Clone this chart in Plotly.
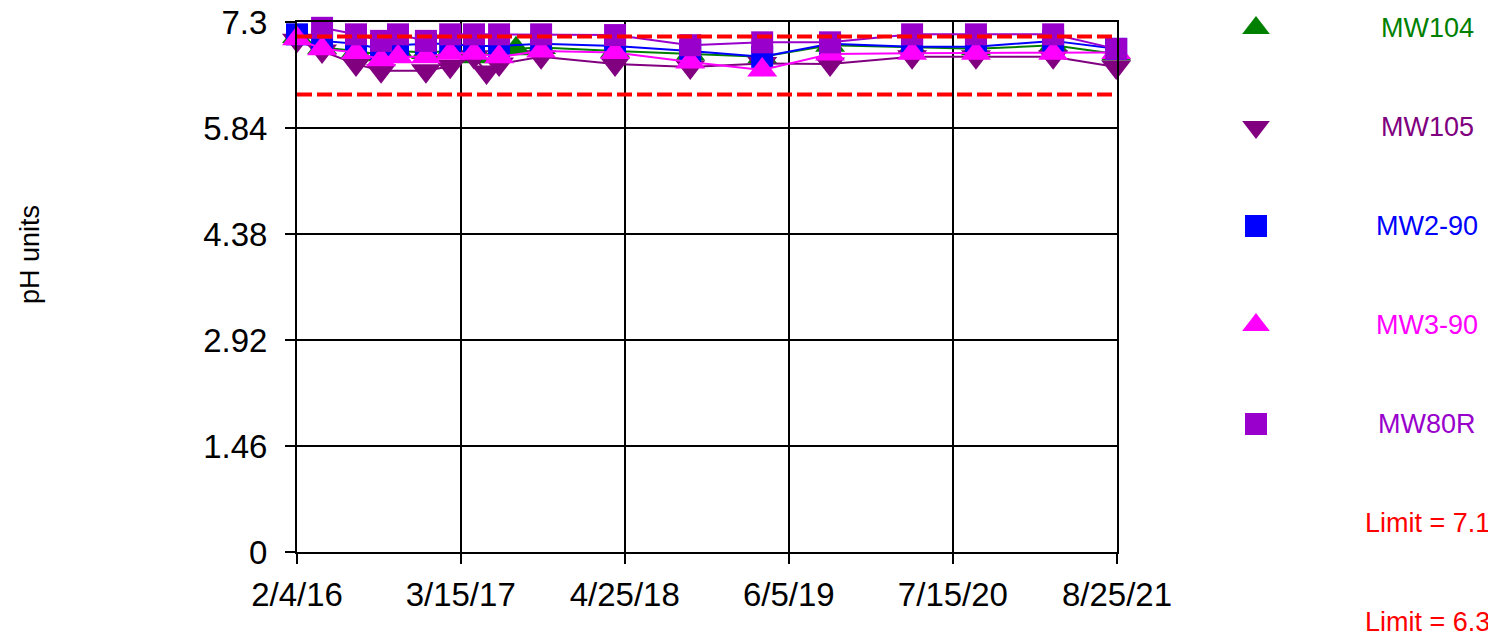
import plotly.graph_objects as go

# ---------------- data ----------------
mw104_dates = ["2016-02-04", "2016-04-06", "2016-06-29", "2016-08-30", "2016-10-11", "2016-12-19",
               "2017-02-17", "2017-04-17", "2017-07-30", "2017-09-30", "2018-04-01", "2018-10-04",
               "2019-03-31", "2019-09-15", "2020-04-05", "2020-09-10", "2021-03-20", "2021-08-23"]
mw104_vals = [7.10, 6.95, 6.90, 6.85, 6.90, 6.88, 6.90, 6.82, 6.93, 6.95, 6.90, 6.86,
              6.82, 6.98, 6.95, 6.93, 6.98, 6.86]

mw105_dates = ["2016-02-04", "2016-04-06", "2016-06-29", "2016-08-30", "2016-12-19", "2017-02-17",
               "2017-04-17", "2017-05-18", "2017-06-18", "2017-09-30", "2018-04-01", "2018-10-04",
               "2019-03-31", "2019-09-15", "2020-04-05", "2020-09-10", "2021-03-20", "2021-08-23"]
mw105_vals = [7.05, 6.90, 6.72, 6.63, 6.63, 6.69, 6.82, 6.61, 6.72, 6.82, 6.72, 6.68,
              6.73, 6.72, 6.82, 6.82, 6.82, 6.68]

common_dates = ["2016-02-04", "2016-04-06", "2016-06-29", "2016-08-30", "2016-10-11", "2016-12-19",
                "2017-02-17", "2017-04-17", "2017-06-18", "2017-09-30", "2018-04-01", "2018-10-04",
                "2019-03-31", "2019-09-15", "2020-04-05", "2020-09-10", "2021-03-20", "2021-08-23"]
mw2_90_vals = [7.13, 7.04, 7.00, 6.93, 6.98, 7.00, 7.00, 6.97, 6.97, 7.00, 6.97, 6.90,
               6.82, 7.00, 6.96, 6.96, 7.04, 6.93]
mw3_90_vals = [7.07, 6.93, 6.88, 6.78, 6.82, 6.82, 6.87, 6.87, 6.82, 6.90, 6.88, 6.75,
               6.64, 6.86, 6.87, 6.87, 6.87, 6.88]

mw80r_dates = common_dates[1:]
mw80r_vals = [7.22, 7.13, 7.04, 7.13, 7.04, 7.13, 7.13, 7.13, 7.13, 7.12, 6.98,
              7.02, 7.02, 7.13, 7.13, 7.13, 6.93]

limit_high = 7.1
limit_low = 6.3

x_range = ["2016-02-04", "2021-08-25"]
x_tickvals = ["2016-02-04", "2017-03-15", "2018-04-25", "2019-06-05", "2020-07-15", "2021-08-25"]
x_ticktext = ["2/4/16", "3/15/17", "4/25/18", "6/5/19", "7/15/20", "8/25/21"]
y_tickvals = [0, 1.46, 2.92, 4.38, 5.84, 7.3]
y_ticktext = ["0", "1.46", "2.92", "4.38", "5.84", "7.3"]

series = [
    ("MW104", mw104_dates, mw104_vals, "#008000", "triangle-up"),
    ("MW105", mw105_dates, mw105_vals, "#800080", "triangle-down"),
    ("MW2-90", common_dates, mw2_90_vals, "#0000FF", "square"),
    ("MW3-90", common_dates, mw3_90_vals, "#FF00FF", "triangle-up"),
    ("MW80R", mw80r_dates, mw80r_vals, "#9900CC", "square"),
]
limits = [("Limit = 7.1", limit_high), ("Limit = 6.3", limit_low)]

# ---------------- layout geometry (figure pixels; page adds ~8px offset) ----------------
W, H = 1496, 634
ML, MR, MT, MB = 289, 0, 14, 90
PLOT_W = 820
PAPER_W = W - ML - MR
PAPER_H = H - MT - MB
FONT = "Liberation Sans, Arial, sans-serif"


def px_to_paper_x(px):
    return (px - ML) / PAPER_W


def px_to_paper_y(py):
    return (H - MB - py) / PAPER_H


fig = go.Figure()

for name, xs, ys, color, sym in series:
    size = 22 if sym == "square" else 26
    fig.add_trace(go.Scatter(
        x=xs, y=ys, name=name, mode="lines+markers",
        line=dict(color=color, width=2),
        marker=dict(symbol=sym, size=size, color=color, line=dict(width=0)),
        cliponaxis=False, showlegend=False,
    ))

for name, val in limits:
    fig.add_trace(go.Scatter(
        x=x_range, y=[val, val], name=name, mode="lines",
        line=dict(color="#FF0000", width=4, dash="15px,5px"),
        showlegend=False,
    ))

# custom legend: markers on a hidden overlay axis, labels as annotations
LEG_ROW0, LEG_STEP = 20, 99.0
LEG_MARK_X = 1248
LEG_TEXT_X = 1419
for i, (name, xs, ys, color, sym) in enumerate(series):
    ypx = LEG_ROW0 + LEG_STEP * i
    fig.add_trace(go.Scatter(
        x=[0.5], y=[ypx], mode="markers", xaxis="x2", yaxis="y2",
        marker=dict(symbol=sym, size=22 if sym == "square" else 24, color=color, line=dict(width=0)),
        showlegend=False, hoverinfo="skip", cliponaxis=False,
    ))
    fig.add_annotation(x=px_to_paper_x(LEG_TEXT_X), y=px_to_paper_y(ypx), xref="paper", yref="paper",
                       text=name, showarrow=False, xanchor="center", yanchor="middle",
                       font=dict(family=FONT, size=27, color=color))
for j, (name, val) in enumerate(limits):
    ypx = LEG_ROW0 + LEG_STEP * (len(series) + j)
    fig.add_annotation(x=px_to_paper_x(LEG_TEXT_X), y=px_to_paper_y(ypx), xref="paper", yref="paper",
                       text=name, showarrow=False, xanchor="center", yanchor="middle",
                       font=dict(family=FONT, size=27, color="#FF0000"))

# y-axis title
fig.add_annotation(x=px_to_paper_x(22), y=px_to_paper_y(247), xref="paper", yref="paper",
                   text="pH units", textangle=-90, showarrow=False, xanchor="center", yanchor="middle",
                   font=dict(family=FONT, size=27, color="#000000"))

fig.update_layout(
    width=W, height=H,
    margin=dict(l=ML, r=MR, t=MT, b=MB, pad=0),
    paper_bgcolor="white", plot_bgcolor="white",
    font=dict(family=FONT, color="#000000"),
    showlegend=False,
    xaxis=dict(
        type="date", range=x_range, domain=[0, PLOT_W / PAPER_W],
        tickmode="array", tickvals=x_tickvals, ticktext=x_ticktext,
        showgrid=True, gridcolor="#000000", gridwidth=2,
        showline=True, linecolor="#000000", linewidth=2, mirror=True,
        ticks="outside", ticklen=10, tickwidth=2, tickcolor="#000000",
        tickfont=dict(family=FONT, size=33, color="#000000"),
        ticklabelstandoff=2, ticklabeloverflow="allow",
        zeroline=False, automargin=False,
    ),
    yaxis=dict(
        range=[0, 7.3], tickmode="array", tickvals=y_tickvals, ticktext=y_ticktext,
        showgrid=True, gridcolor="#000000", gridwidth=2,
        showline=True, linecolor="#000000", linewidth=2, mirror=True,
        ticks="outside", ticklen=10, tickwidth=2, tickcolor="#000000",
        tickfont=dict(family=FONT, size=33, color="#000000"),
        ticklabelstandoff=11, ticklabeloverflow="allow",
        zeroline=False, automargin=False,
    ),
    xaxis2=dict(domain=[px_to_paper_x(LEG_MARK_X - 20), px_to_paper_x(LEG_MARK_X + 20)],
                range=[0, 1], visible=False, anchor="y2", fixedrange=True),
    yaxis2=dict(domain=[0, 1], range=[H - MB, MT], visible=False, anchor="x2", fixedrange=True),
)

fig.write_html("out.html")
